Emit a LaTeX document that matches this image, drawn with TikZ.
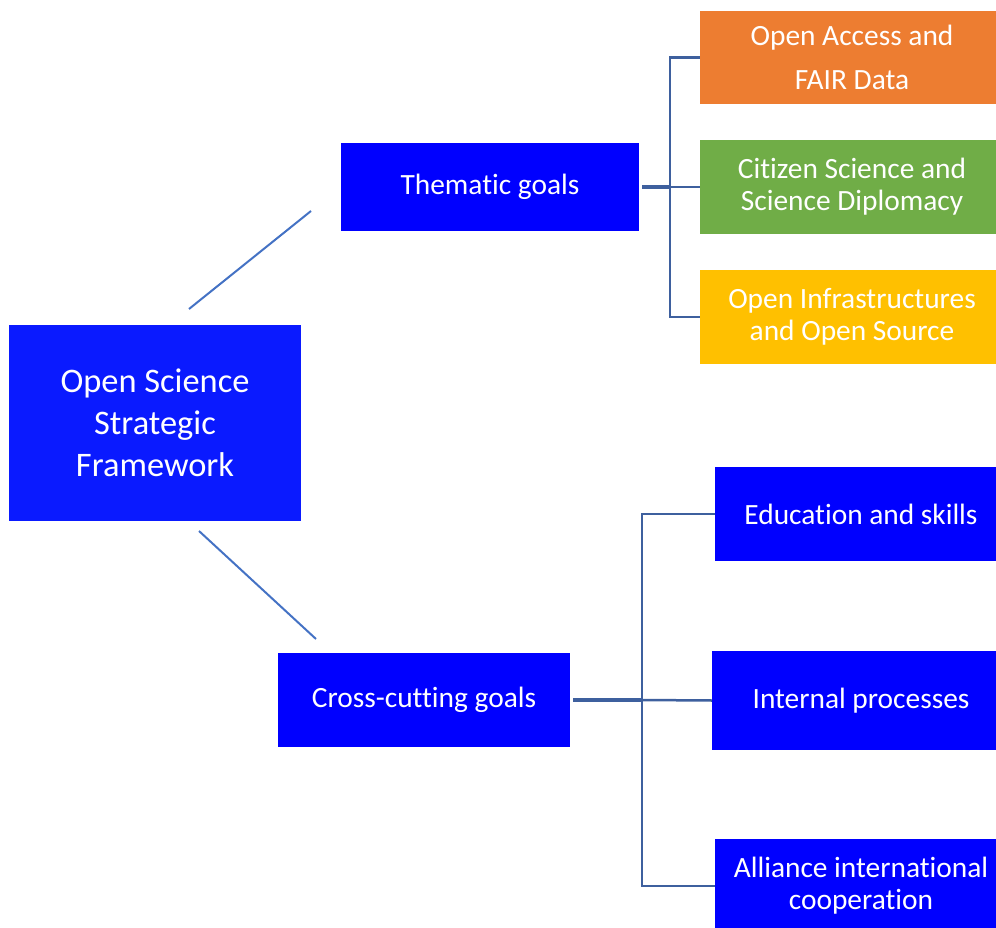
\documentclass[tikz,border=0pt]{standalone}
\usepackage{fontspec}
\setmainfont{Carlito}[Ligatures=NoCommon, RawFeature={-liga;-clig;-calt}]
\usepackage{tikz}
\usetikzlibrary{calc}
\definecolor{goalblue}{RGB}{0,0,255}
\definecolor{mainblue}{RGB}{10,26,255}
\definecolor{oaorange}{RGB}{237,125,49}
\definecolor{csgreen}{RGB}{112,173,71}
\definecolor{infyellow}{RGB}{255,192,0}
\definecolor{linkblue}{RGB}{68,114,196}
\definecolor{brackblue}{RGB}{62,96,158}
\tikzstyle{block} = [rectangle, fill=goalblue, text=white, align=center, inner sep=0pt,
    font=\fontsize{29.4}{32}\selectfont]
\tikzstyle{link} = [draw=linkblue, line width=2pt]
\tikzstyle{bracket} = [draw=brackblue, line width=2.5pt]
\tikzstyle{stem} = [draw=brackblue, line width=4pt]

\begin{document}
\begin{tikzpicture}[x=1pt, y=-1pt]
    \useasboundingbox (0,0) rectangle (996,928);

    \node[block, fill=mainblue, minimum width=292pt, minimum height=196pt,
        font=\fontsize{34.4}{42}\selectfont] at (155,423) (frame) {Open Science\\Strategic\\Framework};

    % thematic branch
    \node[block, minimum width=298pt, minimum height=88pt] at (490,187) (thematic) {Thematic goals};
    \node[block, fill=oaorange, minimum width=296pt, minimum height=93pt,
        font=\fontsize{29.4}{44}\selectfont] at (848,57.5) (oafair) {\hspace*{8pt}Open Access and\\\hspace*{8pt}FAIR Data};
    \node[block, fill=csgreen, minimum width=296pt, minimum height=94pt] at (848,187) (citizen) {\hspace*{8pt}Citizen Science and\\\hspace*{8pt}Science Diplomacy};
    \node[block, fill=infyellow, minimum width=296pt, minimum height=94pt] at (848,317) (infra) {\hspace*{8pt}Open Infrastructures\\\hspace*{8pt}and Open Source};

    % cross-cutting branch
    \node[block, minimum width=292pt, minimum height=94pt] at (424,700) (cross) {Cross-cutting goals};
    \node[block, minimum width=281pt, minimum height=94pt] at (855.5,514) (edu) {\hspace*{11pt}Education and skills};
    \node[block, minimum width=284pt, minimum height=99pt] at (854,700.5) (internal) {\hspace*{14pt}Internal processes};
    \node[block, minimum width=281pt, minimum height=94pt] at (855.5,886) (alliance) {\hspace*{11pt}Alliance international\\\hspace*{11pt}cooperation};

    \coordinate (d1a) at (189,309);
    \coordinate (d1b) at (311,211);
    \coordinate (d2a) at (199,531);
    \coordinate (d2b) at (316,639);
    \draw[link] (d1a) -- (d1b);
    \draw[link] (d2a) -- (d2b);

    \coordinate (tjoin) at (670,187);
    \draw[stem] ($(thematic.east)+(3,0)$) -- (tjoin);
    \draw[bracket] (oafair.west) -| (tjoin);
    \draw[bracket] (citizen.west) -- (tjoin);
    \draw[bracket] (infra.west) -| (tjoin);

    \coordinate (cjoin) at (642,700);
    \draw[stem] ($(cross.east)+(3,0)$) -- (cjoin);
    \draw[bracket] (edu.west) -| (cjoin);
    \draw[bracket] (internal.west) -- (cjoin);
    \draw[bracket] (alliance.west) -| (cjoin);
\end{tikzpicture}
\end{document}
